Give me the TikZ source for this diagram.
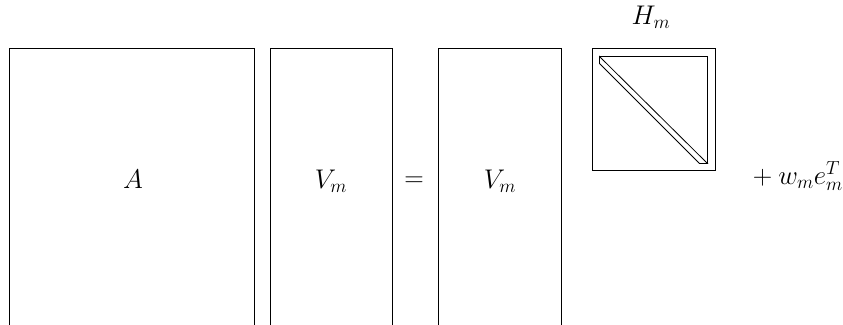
\RequirePackage{fix-cm}
\documentclass[tikz,border=0pt]{standalone}
\begin{document}
\begin{tikzpicture}[x=1pt,y=-1pt,
  mat/.style={draw=black,line width=0.8pt},
  lbl/.style={font=\fontsize{27}{32}\selectfont,inner sep=0pt}]
\useasboundingbox (0,0) rectangle (843,324);
\clip (0,0) rectangle (843,324);
% matrices
\draw[mat] (9.5,340) -- (9.5,48.5) -- (254,48.5) -- (254,340);
\draw[mat] (270,340) -- (270,48.5) -- (392,48.5) -- (392,340);
\draw[mat] (438.5,340) -- (438.5,48.5) -- (561,48.5) -- (561,340);
\draw[mat] (592.5,48.5) rectangle (715,170.5);
\draw[mat] (599.5,56.5) -- (707.5,56.5) -- (707.5,163.5);
\draw[mat] (599.5,56.5) -- (707.5,163.5) -- (699.5,163.5) -- (599.5,63.5) -- cycle;
% labels
\node[lbl] (a) at (133,179) {$A$};
\node[lbl] (v1) at (331,181) {$V_m$};
\node[lbl] (eq) at (414,182) {$=$};
\node[lbl] (v2) at (500,181) {$V_m$};
\node[lbl] (h) at (651,17) {$H_m$};
\node[lbl,anchor=east] (w) at (843,176) {${}+w_m e_m^T$};
\end{tikzpicture}
\end{document}
